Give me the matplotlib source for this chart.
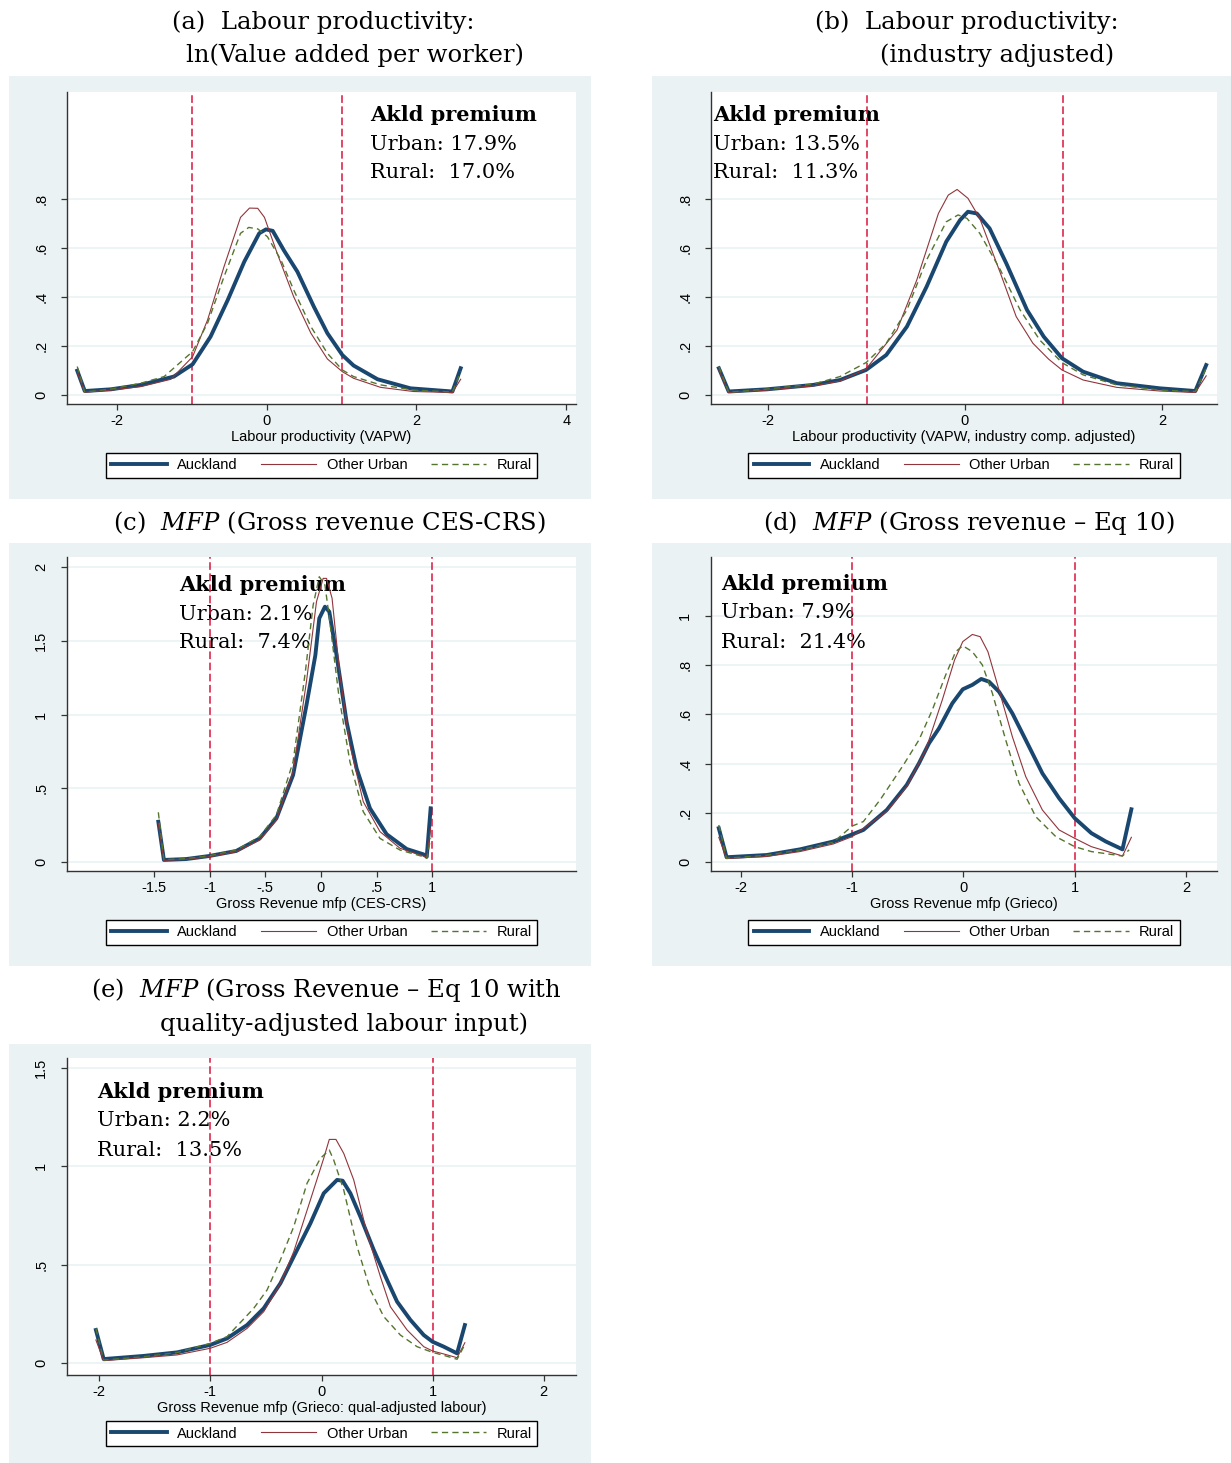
import numpy as np
import matplotlib
matplotlib.use("Agg")
import matplotlib.pyplot as plt
from matplotlib.patches import Rectangle

plt.rcParams['font.family'] = ['Liberation Sans', 'DejaVu Sans']
plt.rcParams['mathtext.fontset'] = 'dejavuserif'

# ---- data ----
# (a) labour productivity
a_akl_x = [-2.53, -2.43, -2.08, -1.68, -1.24, -0.99, -0.75, -0.52, -0.30, -0.10, -0.01, 0.08, 0.23, 0.41, 0.63, 0.81, 1.01, 1.16, 1.48, 1.92, 2.48, 2.59]
a_akl_y = [0.099, 0.016, 0.023, 0.041, 0.075, 0.125, 0.238, 0.388, 0.544, 0.660, 0.676, 0.670, 0.590, 0.503, 0.360, 0.252, 0.163, 0.120, 0.064, 0.027, 0.014, 0.109]
a_urb_x = [-2.53, -2.43, -2.08, -1.68, -1.28, -0.99, -0.79, -0.57, -0.35, -0.23, -0.12, -0.03, 0.14, 0.36, 0.59, 0.81, 1.01, 1.16, 1.52, 1.96, 2.48, 2.59]
a_urb_y = [0.095, 0.011, 0.020, 0.034, 0.064, 0.156, 0.306, 0.524, 0.725, 0.763, 0.762, 0.725, 0.578, 0.401, 0.252, 0.147, 0.095, 0.068, 0.031, 0.014, 0.010, 0.064]
a_rur_x = [-2.53, -2.43, -2.08, -1.68, -1.37, -0.99, -0.79, -0.57, -0.35, -0.24, -0.12, 0.01, 0.19, 0.36, 0.59, 0.81, 1.01, 1.16, 1.52, 1.96, 2.48, 2.59]
a_rur_y = [0.116, 0.012, 0.024, 0.048, 0.075, 0.177, 0.293, 0.483, 0.660, 0.684, 0.678, 0.646, 0.551, 0.429, 0.279, 0.170, 0.102, 0.075, 0.041, 0.020, 0.012, 0.095]

# (b) labour productivity, industry adjusted
b_akl_x = [-2.50, -2.40, -2.01, -1.54, -1.27, -1.005, -0.80, -0.59, -0.39, -0.19, -0.05, 0.03, 0.12, 0.25, 0.42, 0.63, 0.80, 0.985, 1.20, 1.54, 1.98, 2.34, 2.45]
b_akl_y = [0.109, 0.014, 0.023, 0.041, 0.061, 0.102, 0.163, 0.279, 0.442, 0.626, 0.714, 0.748, 0.741, 0.680, 0.537, 0.347, 0.238, 0.150, 0.095, 0.048, 0.027, 0.016, 0.122]
b_urb_x = [-2.50, -2.40, -2.01, -1.54, -1.27, -1.005, -0.69, -0.49, -0.27, -0.17, -0.08, 0.03, 0.15, 0.36, 0.52, 0.69, 0.85, 0.985, 1.20, 1.54, 1.98, 2.34, 2.45]
b_urb_y = [0.102, 0.010, 0.020, 0.037, 0.057, 0.106, 0.265, 0.469, 0.741, 0.816, 0.839, 0.803, 0.721, 0.497, 0.320, 0.211, 0.146, 0.102, 0.061, 0.031, 0.016, 0.010, 0.078]
b_rur_x = [-2.50, -2.40, -2.01, -1.54, -1.27, -1.005, -0.80, -0.59, -0.39, -0.19, -0.07, 0.02, 0.15, 0.36, 0.56, 0.76, 0.985, 1.20, 1.54, 1.98, 2.34, 2.45]
b_rur_y = [0.116, 0.011, 0.024, 0.044, 0.075, 0.132, 0.211, 0.347, 0.551, 0.707, 0.735, 0.721, 0.660, 0.510, 0.347, 0.224, 0.132, 0.082, 0.041, 0.020, 0.014, 0.109]

# (c) MFP, CES-CRS
c_akl_x = [-1.46, -1.41, -1.21, -1.00, -0.76, -0.55, -0.40, -0.25, -0.13, -0.05, -0.015, 0.036, 0.075, 0.14, 0.23, 0.32, 0.44, 0.59, 0.77, 0.92, 0.95, 0.985]
c_akl_y = [0.273, 0.014, 0.020, 0.041, 0.075, 0.160, 0.296, 0.590, 1.064, 1.403, 1.652, 1.731, 1.697, 1.403, 0.951, 0.635, 0.364, 0.188, 0.088, 0.052, 0.036, 0.364]
c_urb_x = [-1.46, -1.41, -1.21, -1.00, -0.76, -0.55, -0.40, -0.25, -0.13, -0.04, 0.02, 0.05, 0.10, 0.17, 0.26, 0.38, 0.53, 0.71, 0.92, 0.95, 0.985]
c_urb_y = [0.262, 0.011, 0.018, 0.036, 0.070, 0.149, 0.285, 0.612, 1.223, 1.765, 1.923, 1.923, 1.788, 1.268, 0.793, 0.409, 0.206, 0.093, 0.041, 0.034, 0.228]
c_rur_x = [-1.46, -1.41, -1.21, -1.00, -0.76, -0.55, -0.40, -0.25, -0.14, -0.07, -0.015, 0.036, 0.08, 0.16, 0.26, 0.38, 0.53, 0.71, 0.92, 0.95, 0.985]
c_rur_y = [0.337, 0.016, 0.023, 0.043, 0.081, 0.172, 0.319, 0.680, 1.290, 1.742, 1.934, 1.878, 1.629, 1.132, 0.680, 0.341, 0.160, 0.081, 0.036, 0.025, 0.160]

# (d) MFP, Grieco
d_akl_x = [-2.20, -2.13, -1.77, -1.47, -1.17, -1.00, -0.90, -0.69, -0.51, -0.40, -0.31, -0.22, -0.10, -0.006, 0.08, 0.16, 0.23, 0.32, 0.44, 0.56, 0.71, 0.86, 1.00, 1.15, 1.28, 1.43, 1.51]
d_akl_y = [0.137, 0.019, 0.028, 0.051, 0.083, 0.112, 0.130, 0.211, 0.313, 0.401, 0.482, 0.543, 0.645, 0.702, 0.720, 0.744, 0.733, 0.692, 0.604, 0.496, 0.360, 0.259, 0.178, 0.117, 0.083, 0.051, 0.214]
d_urb_x = [-2.20, -2.13, -1.77, -1.47, -1.17, -1.00, -0.69, -0.51, -0.34, -0.19, -0.08, -0.006, 0.08, 0.15, 0.22, 0.32, 0.44, 0.56, 0.71, 0.86, 1.00, 1.15, 1.43, 1.51]
d_urb_y = [0.100, 0.014, 0.022, 0.042, 0.073, 0.103, 0.205, 0.306, 0.455, 0.659, 0.821, 0.896, 0.925, 0.916, 0.855, 0.699, 0.509, 0.347, 0.211, 0.130, 0.096, 0.062, 0.024, 0.100]
d_rur_x = [-2.20, -2.13, -1.77, -1.47, -1.17, -1.00, -0.90, -0.75, -0.54, -0.40, -0.28, -0.16, -0.07, -0.006, 0.08, 0.17, 0.26, 0.38, 0.50, 0.65, 0.83, 1.00, 1.15, 1.43, 1.49]
d_rur_y = [0.150, 0.015, 0.027, 0.049, 0.080, 0.146, 0.164, 0.252, 0.394, 0.496, 0.618, 0.760, 0.855, 0.879, 0.855, 0.801, 0.686, 0.496, 0.320, 0.184, 0.103, 0.062, 0.042, 0.024, 0.049]

# (e) MFP, Grieco with quality-adjusted labour
e_akl_x = [-2.03, -1.96, -1.60, -1.30, -1.00, -0.85, -0.67, -0.52, -0.37, -0.25, -0.10, 0.02, 0.14, 0.19, 0.26, 0.35, 0.47, 0.59, 0.68, 0.80, 0.92, 1.00, 1.10, 1.22, 1.29]
e_akl_y = [0.168, 0.020, 0.036, 0.054, 0.092, 0.125, 0.193, 0.278, 0.405, 0.541, 0.710, 0.863, 0.931, 0.927, 0.863, 0.744, 0.575, 0.422, 0.312, 0.219, 0.142, 0.108, 0.083, 0.049, 0.193]
e_urb_x = [-2.03, -1.96, -1.60, -1.30, -1.00, -0.85, -0.67, -0.52, -0.37, -0.25, -0.10, 0.02, 0.07, 0.13, 0.20, 0.29, 0.41, 0.53, 0.62, 0.77, 0.92, 1.00, 1.10, 1.22, 1.29]
e_urb_y = [0.117, 0.012, 0.027, 0.041, 0.075, 0.105, 0.176, 0.261, 0.405, 0.566, 0.829, 1.041, 1.137, 1.137, 1.066, 0.931, 0.659, 0.439, 0.286, 0.168, 0.083, 0.061, 0.046, 0.027, 0.103]
e_rur_x = [-2.03, -1.96, -1.60, -1.30, -1.00, -0.85, -0.61, -0.49, -0.37, -0.25, -0.13, -0.01, 0.07, 0.11, 0.20, 0.32, 0.44, 0.56, 0.71, 0.86, 1.00, 1.10, 1.22, 1.28]
e_rur_y = [0.176, 0.015, 0.032, 0.053, 0.100, 0.134, 0.278, 0.371, 0.524, 0.693, 0.914, 1.041, 1.083, 1.032, 0.880, 0.592, 0.371, 0.236, 0.142, 0.083, 0.054, 0.039, 0.019, 0.083]

series_names = ['Auckland', 'Other Urban', 'Rural']
urban_prem = ['17.9%', '13.5%', '2.1%', '7.9%', '2.2%']
rural_prem = ['17.0%', '11.3%', '7.4%', '21.4%', '13.5%']
xlabels = ['Labour productivity (VAPW)',
           'Labour productivity (VAPW, industry comp. adjusted)',
           'Gross Revenue mfp (CES-CRS)',
           'Gross Revenue mfp (Grieco)',
           'Gross Revenue mfp (Grieco: qual-adjusted labour)']
xticks = [[-2, 0, 2, 4], [-2, 0, 2], [-1.5, -1, -0.5, 0, 0.5, 1], [-2, -1, 0, 1, 2], [-2, -1, 0, 1, 2]]
xticklabels = [['-2', '0', '2', '4'], ['-2', '0', '2'], ['-1.5', '-1', '-.5', '0', '.5', '1'],
               ['-2', '-1', '0', '1', '2'], ['-2', '-1', '0', '1', '2']]
yticks = [[0, .2, .4, .6, .8], [0, .2, .4, .6, .8], [0, .5, 1, 1.5, 2], [0, .2, .4, .6, .8, 1], [0, .5, 1, 1.5]]
yticklabels = [['0', '.2', '.4', '.6', '.8'], ['0', '.2', '.4', '.6', '.8'], ['0', '.5', '1', '1.5', '2'],
               ['0', '.2', '.4', '.6', '.8', '1'], ['0', '.5', '1', '1.5']]

panel_data = [
    [(a_akl_x, a_akl_y), (a_urb_x, a_urb_y), (a_rur_x, a_rur_y)],
    [(b_akl_x, b_akl_y), (b_urb_x, b_urb_y), (b_rur_x, b_rur_y)],
    [(c_akl_x, c_akl_y), (c_urb_x, c_urb_y), (c_rur_x, c_rur_y)],
    [(d_akl_x, d_akl_y), (d_urb_x, d_urb_y), (d_rur_x, d_rur_y)],
    [(e_akl_x, e_akl_y), (e_urb_x, e_urb_y), (e_rur_x, e_rur_y)],
]

# ---- layout (pixels) ----
W, H = 1231, 1463
BG = '#eaf2f3'
navy, maroon, olive, red = '#1a476f', '#90353b', '#55752f', '#dc143c'

def frac(l, t, r, b):
    return [l / W, 1 - b / H, (r - l) / W, (b - t) / H]

boxes = [(9, 76, 591, 499), (652, 76, 1231, 499), (9, 543, 591, 966), (652, 543, 1231, 966), (9, 1044, 591, 1463)]
axrects = [(67, 92, 576, 404), (711, 92, 1217, 404), (67, 557, 576, 871), (711, 557, 1217, 871), (67, 1058, 576, 1375)]
xlims = [(-2.667, 4.13), (-2.58, 2.56), (-2.28, 2.29), (-2.27, 2.28), (-2.29, 2.29)]
ylims = [(-0.037, 1.237), (-0.037, 1.237), (-0.061, 2.068), (-0.037, 1.24), (-0.061, 1.551)]
notes_at = [(370, 115), (713, 115), (179, 585), (721, 584), (97, 1092)]
legend_y = [465.5, 465.5, 932.5, 932.5, 1433.5]

fig = plt.figure(figsize=(12.31, 14.63), dpi=100)
fig.patch.set_facecolor('white')

titles = [
    [(172, 22, '(a)  Labour productivity:'), (186, 55, 'ln(Value added per worker)')],
    [(815, 22, '(b)  Labour productivity:'), (880, 55, '(industry adjusted)')],
    [(113, 523, r'(c)  $\mathit{MFP}$ (Gross revenue CES-CRS)')],
    [(763, 523, r'(d)  $\mathit{MFP}$ (Gross revenue – Eq 10)')],
    [(91, 990, r'(e)  $\mathit{MFP}$ (Gross Revenue – Eq 10 with'), (160, 1024, 'quality-adjusted labour input)')],
]

for i in range(5):
    l, t, r, b = boxes[i]
    fig.add_artist(Rectangle((l / W, 1 - b / H), (r - l) / W, (b - t) / H,
                             transform=fig.transFigure, facecolor=BG, edgecolor='none', zorder=0))
    for (tx, ty, s) in titles[i]:
        fig.text(tx / W, 1 - ty / H, s, family='DejaVu Serif', fontsize=17.5, ha='left', va='center')

    al, at, ar, ab = axrects[i]
    ax = fig.add_axes(frac(al, at, ar, ab))
    ax.set_facecolor('white')
    for sp in ['top', 'right']:
        ax.spines[sp].set_visible(False)
    for sp in ['left', 'bottom']:
        ax.spines[sp].set_color('#333333')
        ax.spines[sp].set_linewidth(1.0)

    ax.set_xlim(*xlims[i])
    ax.set_ylim(*ylims[i])
    ax.set_xticks(xticks[i])
    ax.set_xticklabels(xticklabels[i])
    ax.set_yticks(yticks[i])
    ax.set_yticklabels(yticklabels[i], rotation=90, va='center')
    ax.tick_params(axis='both', direction='out', length=4.5, width=0.9, color='#333333', labelsize=10.5)
    ax.tick_params(axis='y', pad=9)
    ax.tick_params(axis='x', pad=3)
    ax.set_axisbelow(True)
    ax.grid(axis='y', color=BG, linewidth=1.2)
    ax.set_xlabel(xlabels[i], fontsize=10.5, labelpad=1)

    for v in (-1, 1):
        ax.axvline(v, color=red, linewidth=1.1, linestyle=(0, (5, 2.3)), zorder=2)

    (x1, y1), (x2, y2), (x3, y3) = panel_data[i]
    h1, = ax.plot(x1, y1, color=navy, linewidth=2.8, zorder=3, label=series_names[0])
    h2, = ax.plot(x2, y2, color=maroon, linewidth=0.8, zorder=4, label=series_names[1])
    h3, = ax.plot(x3, y3, color=olive, linewidth=1.0, linestyle=(0, (4.5, 3)), zorder=5, label=series_names[2])

    nx, ny = notes_at[i]
    ax.text(nx / W, 1 - ny / H, 'Akld premium', transform=fig.transFigure, family='DejaVu Serif',
            fontweight='bold', fontsize=15, ha='left', va='center', zorder=1)
    ax.text(nx / W, 1 - (ny + 29) / H, 'Urban: ' + urban_prem[i], transform=fig.transFigure,
            family='DejaVu Serif', fontsize=15, ha='left', va='center', zorder=1)
    ax.text(nx / W, 1 - (ny + 58) / H, 'Rural:  ' + rural_prem[i], transform=fig.transFigure,
            family='DejaVu Serif', fontsize=15, ha='left', va='center', zorder=1)

    cx = (al + ar) / 2
    leg = ax.legend(handles=[h1, h2, h3], loc='center', bbox_to_anchor=(cx / W, 1 - legend_y[i] / H),
                    bbox_transform=fig.transFigure, ncol=3, frameon=True, fancybox=False,
                    edgecolor='black', framealpha=1, handlelength=3.8, handletextpad=0.7,
                    columnspacing=1.6, borderpad=0.4, fontsize=10.5)
    leg.get_frame().set_linewidth(1.0)

fig.savefig('out.png', dpi=100)
